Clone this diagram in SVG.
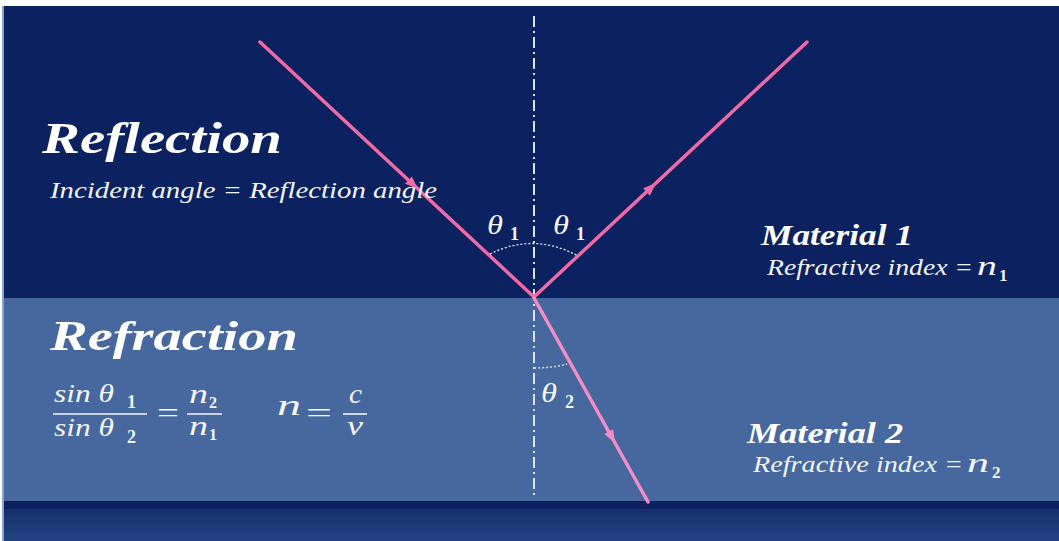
<svg xmlns="http://www.w3.org/2000/svg" width="1059" height="541" viewBox="0 0 1059 541">
  <defs>
    <linearGradient id="bottomGrad" x1="0" y1="0" x2="0" y2="1">
      <stop offset="0" stop-color="#15306c"/>
      <stop offset="1" stop-color="#234282"/>
    </linearGradient>
    <style>
      .head { font-weight: bold; font-style: italic; fill: #ffffff; }
      .sub { font-style: italic; fill: #f2f4fa; }
      .math { font-style: italic; fill: #f4f6fb; }
      .num { font-style: normal; fill: #f4f6fb; }
      .ray1 { stroke: #f06aa5; stroke-width: 3.5; fill: none; stroke-linecap: round; }
      .ray2 { stroke: #f38dc6; stroke-width: 3.5; fill: none; stroke-linecap: round; }
      .arc { stroke: #e6ecf7; stroke-width: 1.3; fill: none; stroke-dasharray: 2 2; }
      .bar { stroke: #f4f6fb; stroke-width: 1.6; }
    </style>
  </defs>

  <!-- background -->
  <rect x="0" y="0" width="1059" height="541" fill="#ffffff"/>
  <rect x="2" y="6" width="3" height="535" fill="#8ea3c8"/>
  <rect x="4" y="6" width="1055" height="292" fill="#0b2160"/>
  <rect x="4" y="298" width="1055" height="203" fill="#46689f"/>
  <rect x="4" y="501" width="1055" height="8" fill="#0a2060"/>
  <rect x="4" y="509" width="1055" height="32" fill="url(#bottomGrad)"/>

  <!-- normal line -->
  <g id="normal">
    <line x1="534" y1="16" x2="534" y2="499" stroke="#dbe5f4" stroke-width="2" stroke-dasharray="11 4 2 4"/>
  </g>

  <!-- connectors: rays -->
  <g id="rays">
    <line class="ray1" x1="260" y1="42" x2="534" y2="297"/>
    <line class="ray1" x1="534" y1="297" x2="807" y2="42"/>
    <line class="ray2" x1="534" y1="298" x2="648" y2="502"/>
    <polygon points="418,189 405.1,183.8 411.9,176.5" fill="#f06aa5"/>
    <polygon points="656,183.1 649.9,195.7 643.1,188.3" fill="#f06aa5"/>
    <polygon points="615,443 604.3,434.1 613.1,429.3" fill="#f38dc6"/>
  </g>

  <g font-family="Liberation Serif, Times New Roman, serif">
  <!-- angle arcs -->
  <g id="angles">
    <path class="arc" d="M490,254 Q534,232 578,256"/>
    <path class="arc" d="M534,368 Q552,368 567,364"/>
    <text class="math" x="487" y="234" font-size="28" textLength="16" lengthAdjust="spacingAndGlyphs">θ</text>
    <text class="num" x="510" y="240" font-size="18" font-weight="bold">1</text>
    <text class="math" x="553" y="234" font-size="28" textLength="16" lengthAdjust="spacingAndGlyphs">θ</text>
    <text class="num" x="576" y="240" font-size="18" font-weight="bold">1</text>
    <text class="math" x="541" y="402" font-size="28" textLength="16" lengthAdjust="spacingAndGlyphs">θ</text>
    <text class="num" x="565" y="408" font-size="18" font-weight="bold">2</text>
  </g>

  <!-- Reflection block -->
  <g id="reflection">
    <text class="head" x="42" y="153" font-size="45" textLength="240" lengthAdjust="spacingAndGlyphs">Reflection</text>
    <text class="sub" x="50" y="198" font-size="24" textLength="387" lengthAdjust="spacingAndGlyphs">Incident angle = Reflection angle</text>
  </g>

  <!-- Material 1 -->
  <g id="material1">
    <text class="head" x="761" y="245" font-size="29" textLength="152" lengthAdjust="spacingAndGlyphs">Material 1</text>
    <text class="sub" x="767" y="275" font-size="24" textLength="206" lengthAdjust="spacingAndGlyphs">Refractive index =</text>
    <text class="math" x="977" y="275" font-size="27" textLength="20" lengthAdjust="spacingAndGlyphs">n</text>
    <text class="num" x="999" y="281" font-size="17" font-weight="bold">1</text>
  </g>

  <!-- Refraction block -->
  <g id="refraction">
    <text class="head" x="50" y="350" font-size="43" textLength="248" lengthAdjust="spacingAndGlyphs">Refraction</text>
    <text class="math" x="54" y="402" font-size="26" textLength="60" lengthAdjust="spacingAndGlyphs">sin θ</text>
    <text class="num" x="127" y="408" font-size="18" font-weight="bold">1</text>
    <line class="bar" x1="53" y1="414" x2="147" y2="414"/>
    <text class="math" x="54" y="436" font-size="26" textLength="60" lengthAdjust="spacingAndGlyphs">sin θ</text>
    <text class="num" x="127" y="443" font-size="18" font-weight="bold">2</text>
    <text class="num" x="157" y="422" font-size="28" textLength="22" lengthAdjust="spacingAndGlyphs">=</text>
    <text class="math" x="189" y="403" font-size="27" textLength="19" lengthAdjust="spacingAndGlyphs">n</text>
    <text class="num" x="209" y="408" font-size="16" font-weight="bold">2</text>
    <line class="bar" x1="187" y1="414" x2="222" y2="414"/>
    <text class="math" x="189" y="435" font-size="27" textLength="19" lengthAdjust="spacingAndGlyphs">n</text>
    <text class="num" x="209" y="440" font-size="16" font-weight="bold">1</text>
    <text class="math" x="277" y="415" font-size="30" textLength="24" lengthAdjust="spacingAndGlyphs">n</text>
    <text class="num" x="306" y="422" font-size="28" textLength="26" lengthAdjust="spacingAndGlyphs">=</text>
    <text class="math" x="349" y="403" font-size="28" textLength="13" lengthAdjust="spacingAndGlyphs">c</text>
    <line class="bar" x1="343" y1="414" x2="367" y2="414"/>
    <text class="math" x="347" y="435" font-size="28" textLength="16" lengthAdjust="spacingAndGlyphs">v</text>
  </g>

  <!-- Material 2 -->
  <g id="material2">
    <text class="head" x="747" y="443" font-size="30" textLength="156" lengthAdjust="spacingAndGlyphs">Material 2</text>
    <text class="sub" x="753" y="472" font-size="24" textLength="210" lengthAdjust="spacingAndGlyphs">Refractive index =</text>
    <text class="math" x="967" y="472" font-size="27" textLength="22" lengthAdjust="spacingAndGlyphs">n</text>
    <text class="num" x="992" y="478" font-size="17" font-weight="bold">2</text>
  </g>
  </g>
</svg>
